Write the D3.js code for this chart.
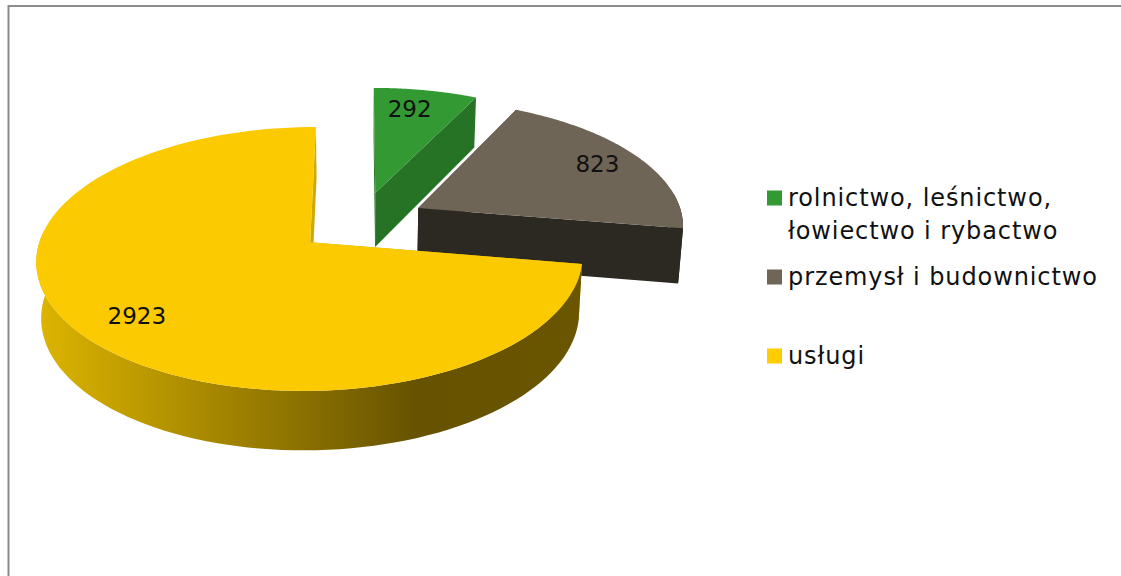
<!DOCTYPE html>
<html>
<head>
<meta charset="utf-8">
<style>
  html, body { margin: 0; padding: 0; background: #fff; overflow: hidden; }
  text { font-family: "DejaVu Sans", sans-serif; fill: #111; }
</style>
<script src="https://cdn.jsdelivr.net/npm/d3@7"></script>
</head>
<body>
<svg id="chart" width="1121" height="576"></svg>
<script>
// data
const categories = [
  ["rolnictwo, leśnictwo,", "łowiectwo i rybactwo"],
  ["przemysł i budownictwo"],
  ["usługi"]
];
const values = [292, 823, 2923];

const topColors = ["#339933", "#6e6556", "#fbca00"];
const wallColors = ["#267326", "#2c2923", "url(#wallShade)"];
const cutColors = ["#267326", "#2c2923", "#cfa900"];
const legendColors = ["#339933", "#6f6657", "#ffcc00"];

const width = 1121, height = 576;
const svg = d3.select("#chart");

// 1. PIE LAYOUT
const arcs = d3.pie().sort(null).value(d => d)(values);

// 2. TILTED DISC WITH PERSPECTIVE
const cx = 361, cy = 222, rx = 265.5, ry = 124.8;
const persp = 0.124, explode = 0.246, bottomScale = 0.985;
const labelRadius = [0.79, 0.82, 0.79];
const labelShift = [-2, -0.4, -2].map(a => a * Math.PI / 180);

function project(X, Y, bottom) {
  const s = 1 / (1 - persp * Y);
  const px = rx * X * s, py = ry * Y * s;
  if (!bottom) return [cx + px, cy + py];
  return [cx + px * bottomScale, cy + py * bottomScale + 55 + 6 * Y];
}

function slicePoint(d, angle, r) {
  const mid = (d.startAngle + d.endAngle) / 2;
  return [
    explode * Math.sin(mid) + r * Math.sin(angle),
    -explode * Math.cos(mid) - r * Math.cos(angle)
  ];
}

const line = d3.line();
const arcAngles = d => d3.range(0, 121).map(i => d.startAngle + (d.endAngle - d.startAngle) * i / 120);

function rim(d, bottom) {
  return arcAngles(d).map(a => project(...slicePoint(d, a, 1), bottom));
}

// only the part of the rim turned towards the viewer gets an outer wall
function frontRim(d, bottom) {
  return arcAngles(d)
    .filter(a => -Math.cos(a) > -persp)
    .map(a => project(...slicePoint(d, a, 1), bottom));
}

function cutWall(d, angle) {
  return [
    project(...slicePoint(d, 0, 0), false),
    project(...slicePoint(d, angle, 1), false),
    project(...slicePoint(d, angle, 1), true),
    project(...slicePoint(d, 0, 0), true)
  ];
}

function labelPoint(d, i) {
  const a = (d.startAngle + d.endAngle) / 2 + labelShift[i];
  return project(...slicePoint(d, a, labelRadius[i]), false);
}

// 3. SIDE SHADING OF THE BIG SLICE
const shade = svg.append("defs").append("linearGradient")
  .attr("id", "wallShade")
  .attr("gradientUnits", "userSpaceOnUse")
  .attr("x1", 40).attr("x2", 580).attr("y1", 0).attr("y2", 0);
shade.append("stop").attr("offset", "0%").attr("stop-color", "#dcb400");
shade.append("stop").attr("offset", "70%").attr("stop-color", "#665200");
shade.append("stop").attr("offset", "100%").attr("stop-color", "#6a5500");

// 4. FRAME
svg.append("rect")
  .attr("x", 8.5).attr("y", 6)
  .attr("width", 1300).attr("height", 800)
  .attr("fill", "#fff")
  .attr("stroke", "#8c8c8c")
  .attr("stroke-width", 2);

// 5. SLICES, back to front
arcs.forEach((d, i) => {
  const g = svg.append("g");
  g.append("path")
    .attr("d", line(cutWall(d, d.startAngle)) + "Z")
    .attr("fill", cutColors[i]);
  const front = frontRim(d, false);
  if (front.length) {
    g.append("path")
      .attr("d", line(front.concat(frontRim(d, true).reverse())) + "Z")
      .attr("fill", wallColors[i]);
  }
  g.append("path")
    .attr("d", line(cutWall(d, d.endAngle)) + "Z")
    .attr("fill", cutColors[i]);
  g.append("path")
    .attr("d", line([project(...slicePoint(d, 0, 0), false)].concat(rim(d, false))) + "Z")
    .attr("fill", topColors[i]);
});

// 6. VALUE LABELS
svg.selectAll("text.value")
  .data(arcs)
  .enter().append("text")
  .attr("class", "value")
  .attr("text-anchor", "middle")
  .attr("font-size", 23)
  .attr("x", (d, i) => labelPoint(d, i)[0])
  .attr("y", (d, i) => labelPoint(d, i)[1] + 8)
  .text(d => d.data);

// 7. LEGEND
const legendY = d3.scalePoint().domain([0, 1, 2]).range([198, 356]);

const items = svg.selectAll("g.legend")
  .data(categories)
  .enter().append("g")
  .attr("class", "legend")
  .attr("transform", (d, i) => `translate(767, ${legendY(i)})`);

items.append("rect")
  .attr("y", -7.5)
  .attr("width", 15)
  .attr("height", 15)
  .attr("fill", (d, i) => legendColors[i]);

items.selectAll("text")
  .data(d => d)
  .enter().append("text")
  .attr("x", 21)
  .attr("y", (d, i) => 8 + i * 33)
  .attr("font-size", 24)
  .attr("letter-spacing", 0.9)
  .text(d => d);
</script>
</body>
</html>
